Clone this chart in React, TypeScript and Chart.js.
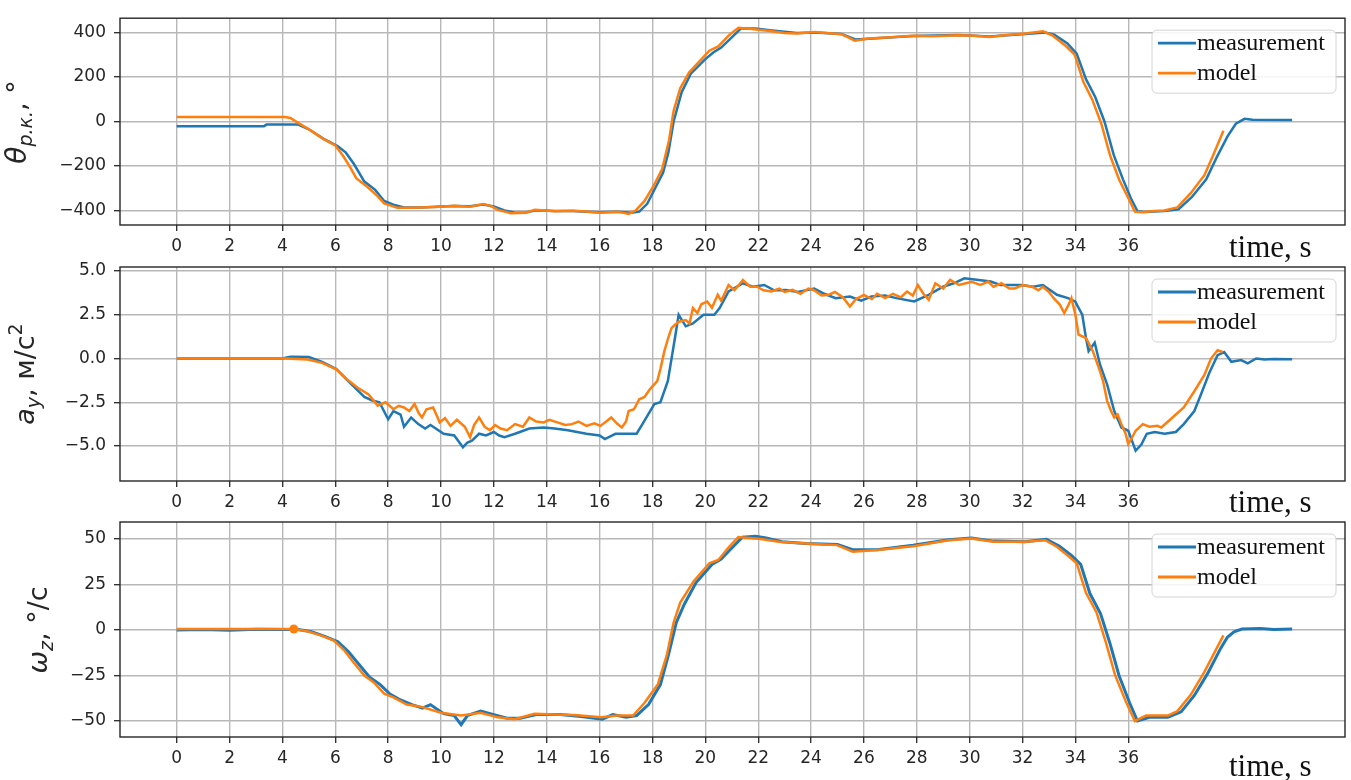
import React, { useEffect, useRef } from "react";
import { Chart, registerables } from "chart.js";
Chart.register(...registerables);

// ---------- data ----------
const xTicks = [0, 2, 4, 6, 8, 10, 12, 14, 16, 18, 20, 22, 24, 26, 28, 30, 32, 34, 36];

const thetaTicks = [-400, -200, 0, 200, 400];
const ayTicks = [-5, -2.5, 0, 2.5, 5];
const omegaTicks = [-50, -25, 0, 25, 50];

// Panel 1: steering angle
const thetaMeasT = [0, 3.3, 3.4, 4.6, 5.0, 5.56, 6.1, 6.4, 6.7, 7.1, 7.5, 7.85, 8.2, 8.6, 9.24, 9.8, 10.5, 11.1, 11.6, 12.0, 12.4, 12.8, 13.2, 13.6, 14.3, 15.0, 15.5, 16.0, 16.68, 17.2, 17.5, 17.8, 18.1, 18.4, 18.6, 18.8, 19.1, 19.45, 20.0, 20.3, 20.6, 21.0, 21.35, 21.9, 22.44, 23.46, 24.14, 25.15, 25.7, 26.17, 27.86, 29.56, 30.75, 32.1, 32.85, 33.2, 33.7, 34.05, 34.4, 34.75, 35.1, 35.45, 35.8, 36.1, 36.35, 36.6, 37.36, 37.9, 38.4, 38.95, 39.35, 39.75, 40.07, 40.4, 40.7, 42.2];
const thetaMeas = [-21, -21, -14, -14, -35, -78, -111, -140, -190, -270, -306, -357, -374, -386, -386, -383, -380, -381, -373, -382, -400, -410, -409, -399, -402, -402, -405, -408, -406, -410, -405, -370, -300, -230, -140, 0, 130, 215, 280, 310, 332, 378, 418, 418, 410, 397, 400, 393, 368, 372, 384, 388, 382, 393, 400, 390, 350, 305, 190, 110, 0, -150, -260, -345, -403, -407, -402, -395, -340, -260, -160, -68, -10, 12, 8, 7];
const thetaModelT = [0, 4.1, 4.3, 4.55, 5.05, 5.56, 6.0, 6.3, 6.56, 6.8, 7.2, 7.6, 7.85, 8.35, 8.8, 9.24, 9.8, 10.5, 11.1, 11.6, 11.9, 12.15, 12.65, 13.2, 13.55, 14.3, 15.0, 15.5, 16.0, 16.68, 17.1, 17.36, 17.7, 18.03, 18.37, 18.63, 18.8, 19.05, 19.39, 19.9, 20.15, 20.49, 20.9, 21.25, 21.76, 22.44, 23.0, 23.46, 24.14, 24.6, 25.15, 25.66, 26.17, 27.0, 27.86, 28.6, 29.56, 30.2, 30.75, 31.4, 32.1, 32.78, 33.12, 33.63, 33.97, 34.3, 34.64, 34.98, 35.32, 35.66, 36.0, 36.25, 36.5, 37.0, 37.36, 37.86, 38.37, 38.88, 39.2, 39.6];
const thetaModel = [20, 20, 16, -3, -39, -79, -108, -155, -205, -256, -292, -335, -368, -388, -387, -386, -384, -378, -383, -371, -380, -397, -412, -410, -397, -403, -401, -404, -410, -405, -415, -400, -357, -292, -213, -82, 48, 149, 221, 286, 318, 337, 388, 421, 416, 406, 398, 395, 402, 398, 392, 363, 373, 378, 385, 383, 387, 385, 380, 388, 395, 405, 387, 340, 301, 178, 98, -10, -155, -263, -343, -405, -408, -402, -400, -386, -321, -241, -155, -42];

// Panel 2: lateral acceleration
const ayMeasT = [0, 4.0, 4.3, 5.0, 5.5, 6.04, 6.5, 7.1, 7.4, 7.67, 8.0, 8.2, 8.47, 8.6, 8.87, 9.14, 9.4, 9.6, 9.8, 10.1, 10.5, 10.83, 11.0, 11.17, 11.44, 11.7, 12.0, 12.2, 12.4, 12.8, 13.34, 13.88, 14.3, 14.8, 15.5, 16.0, 16.2, 16.6, 17.1, 17.4, 17.66, 18.07, 18.3, 18.58, 18.85, 18.99, 19.26, 19.53, 19.93, 20.34, 20.54, 20.88, 21.42, 21.8, 22.23, 22.6, 23.04, 23.5, 24.12, 24.5, 24.93, 25.47, 25.9, 26.28, 26.8, 27.23, 27.9, 28.45, 28.99, 29.4, 29.8, 30.34, 30.8, 31.15, 31.96, 32.4, 32.77, 33.3, 33.72, 33.99, 34.26, 34.4, 34.5, 34.73, 34.93, 35.2, 35.47, 35.74, 36.0, 36.28, 36.5, 36.7, 37.0, 37.37, 37.8, 38.1, 38.5, 38.75, 39.06, 39.38, 39.63, 39.9, 40.27, 40.52, 40.84, 41.15, 41.5, 42.2];
const ayMeas = [0, 0, 0.1, 0.08, -0.2, -0.6, -1.3, -2.2, -2.4, -2.5, -3.47, -3.0, -3.2, -3.9, -3.37, -3.75, -4.0, -3.8, -4.0, -4.3, -4.4, -5.07, -4.8, -4.7, -4.3, -4.4, -4.2, -4.4, -4.5, -4.3, -4.0, -3.94, -4.0, -4.1, -4.3, -4.4, -4.6, -4.3, -4.3, -4.3, -3.65, -2.6, -2.5, -1.29, 1.17, 2.5, 1.84, 2.0, 2.5, 2.5, 2.88, 3.83, 4.3, 4.1, 4.2, 3.9, 3.92, 3.8, 4.0, 3.7, 3.45, 3.54, 3.3, 3.54, 3.6, 3.45, 3.26, 3.64, 4.1, 4.3, 4.58, 4.49, 4.4, 4.2, 4.2, 4.1, 4.2, 3.64, 3.45, 3.26, 2.5, 1.17, 0.42, 0.9, -0.34, -1.48, -3.0, -3.94, -4.13, -5.27, -4.9, -4.3, -4.2, -4.3, -4.2, -3.75, -3.0, -2.06, -0.84, 0.19, 0.37, -0.19, -0.09, -0.28, 0, -0.05, -0.03, -0.04];
const ayModelT = [0, 4.1, 4.96, 5.5, 6.04, 6.45, 6.85, 7.26, 7.45, 7.6, 7.9, 8.2, 8.4, 8.6, 8.8, 9.0, 9.15, 9.28, 9.45, 9.7, 9.85, 9.95, 10.15, 10.36, 10.6, 10.9, 11.1, 11.25, 11.44, 11.65, 11.85, 12.05, 12.25, 12.5, 12.8, 13.1, 13.34, 13.6, 13.88, 14.1, 14.4, 14.7, 14.95, 15.2, 15.5, 15.8, 16.03, 16.25, 16.44, 16.65, 16.84, 17.0, 17.1, 17.3, 17.5, 17.7, 17.9, 18.18, 18.3, 18.45, 18.6, 18.72, 18.85, 19.0, 19.26, 19.4, 19.53, 19.7, 19.85, 20.07, 20.25, 20.47, 20.6, 20.88, 21.1, 21.42, 21.7, 21.96, 22.2, 22.5, 22.8, 23.0, 23.3, 23.6, 23.9, 24.1, 24.4, 24.66, 24.9, 25.2, 25.47, 25.7, 26.0, 26.3, 26.5, 26.8, 27.1, 27.4, 27.63, 27.85, 28.04, 28.25, 28.45, 28.7, 29.0, 29.26, 29.6, 30.07, 30.4, 30.7, 30.9, 31.2, 31.5, 31.7, 32.0, 32.36, 32.6, 32.77, 33.0, 33.18, 33.4, 33.58, 33.75, 33.85, 34.0, 34.12, 34.4, 34.66, 34.93, 35.05, 35.2, 35.35, 35.47, 35.6, 35.74, 35.9, 36.0, 36.15, 36.28, 36.55, 36.8, 37.1, 37.25, 37.6, 38.1, 38.5, 38.88, 39.13, 39.38, 39.57];
const ayModel = [0, 0, -0.06, -0.25, -0.62, -1.2, -1.67, -2.05, -2.4, -2.7, -2.5, -2.9, -2.7, -2.8, -3.0, -2.6, -3.1, -3.37, -2.9, -2.8, -3.3, -3.65, -3.4, -3.85, -3.5, -3.9, -4.5, -3.8, -3.37, -3.9, -4.1, -3.8, -4.0, -4.1, -3.75, -3.9, -3.37, -3.6, -3.65, -3.5, -3.65, -3.8, -3.75, -3.6, -3.85, -3.7, -3.85, -3.6, -3.37, -3.7, -3.94, -3.6, -3.0, -2.9, -2.33, -2.2, -1.76, -1.29, -0.6, 0.42, 1.2, 1.74, 1.93, 2.1, 2.2, 2.0, 2.88, 2.6, 3.1, 3.26, 2.9, 3.64, 3.3, 4.2, 3.9, 4.49, 4.1, 4.1, 3.9, 3.83, 4.0, 3.8, 3.92, 3.7, 4.0, 3.92, 3.6, 3.64, 3.8, 3.5, 2.97, 3.4, 3.64, 3.4, 3.7, 3.45, 3.7, 3.5, 3.83, 3.6, 4.2, 3.7, 3.35, 4.3, 4.0, 4.49, 4.2, 4.39, 4.2, 4.4, 4.1, 4.3, 4.0, 4.0, 4.2, 4.1, 3.9, 4.1, 3.8, 3.45, 3.1, 2.6, 3.1, 3.45, 2.5, 1.36, 1.17, 0.42, -0.72, -1.3, -2.42, -3.0, -3.37, -3.2, -3.75, -4.3, -4.89, -4.5, -4.13, -3.75, -3.9, -3.85, -3.94, -3.47, -2.8, -1.87, -0.94, 0, 0.47, 0.37];

// Panel 3: yaw rate
const omegaMeasT = [0, 1, 2, 3, 4, 4.6, 5.1, 5.6, 6.1, 6.5, 6.9, 7.3, 7.7, 8.05, 8.4, 8.9, 9.3, 9.6, 10.1, 10.5, 10.76, 11.0, 11.5, 12.0, 12.5, 13.0, 13.6, 14.5, 15.3, 16.1, 16.5, 17.0, 17.4, 17.85, 18.3, 18.6, 18.9, 19.2, 19.65, 20.25, 20.6, 21.0, 21.4, 21.9, 22.3, 22.9, 23.8, 25.0, 25.6, 26.5, 27.86, 29.2, 30.07, 30.9, 32.1, 32.9, 33.4, 33.85, 34.2, 34.55, 34.95, 35.3, 35.65, 36.05, 36.35, 36.8, 37.5, 38.0, 38.5, 39.0, 39.5, 39.75, 40.0, 40.3, 41.0, 41.5, 42.2];
const omegaMeas = [0, 0.3, -0.2, 0.4, 0.2, 0.3, -1, -3.5, -6.5, -12, -19, -26, -30, -35, -38, -41, -43, -41, -46, -47, -52, -47, -44.6, -46.5, -48.5, -48.5, -46.5, -46.5, -47.5, -49, -46.5, -48, -47, -41, -30, -14, 4, 14, 26, 36, 39, 45, 51, 51.5, 50.5, 48.5, 47.5, 47, 44, 44, 46.5, 49.5, 50.5, 48.8, 48.5, 49.8, 46, 41, 36, 20, 9, -7, -25, -40, -50, -48, -48, -45, -36, -24, -10, -4, -1, 0.5, 0.8, 0.3, 0.5];
const omegaModelT = [0, 4.43, 4.94, 5.45, 5.95, 6.33, 6.7, 7.1, 7.47, 7.85, 8.2, 8.7, 9.2, 10.0, 10.76, 11.5, 12.15, 12.78, 13.54, 14.3, 15.04, 16.05, 16.68, 17.27, 17.7, 18.2, 18.54, 18.8, 19.05, 19.56, 20.15, 20.49, 20.9, 21.25, 22.1, 22.78, 23.8, 24.98, 25.58, 26.5, 27.86, 29.2, 30.07, 30.9, 32.1, 32.86, 33.3, 33.7, 34.05, 34.4, 34.8, 35.15, 35.5, 35.9, 36.25, 36.68, 37.5, 37.86, 38.37, 38.88, 39.6];
const omegaModel = [0.5, 0.5, -0.7, -3, -5.8, -11, -18, -25, -29, -35, -37, -41, -42, -45.5, -47, -45.5, -48, -49, -46, -46.4, -46.7, -48, -47, -47, -40, -30, -14, 4, 15, 26.7, 36.6, 38.4, 45.7, 51, 50, 48.4, 47.5, 46.6, 43, 43.9, 46, 49.3, 50.2, 48.4, 48.4, 49.3, 45.7, 41, 36.6, 20.4, 9.6, -6.7, -24.7, -39, -50, -47, -47, -44.6, -35.5, -23, -3];
const omegaModelMarkerT = 4.43;

const seriesNames = ["measurement", "model"];
const BLUE = "#1f77b4";
const ORANGE = "#ff7f0e";

// ---------- helpers ----------
const toPts = (t: number[], v: number[]) => t.map((x, i) => ({ x, y: v[i] }));
const fmtInt = (v: number) => String(Math.round(v)).replace("-", "\u2212");
const fmtOne = (v: number) => v.toFixed(1).replace("-", "\u2212");

type Seg = { text: string; font: string; dy: number };

interface PanelCfg {
  top: number;
  height: number;
  chartTop: number;
  chartBottom: number;
  yMin: number;
  yMax: number;
  yTicks: number[];
  fmt: (v: number) => string;
  measT: number[];
  meas: number[];
  modelT: number[];
  model: number[];
  markerT?: number;
  label: Seg[];
  labelX: number;
  labelY: number;
  timeBaseline: number;
  measWidth: number;
}

const MAIN = "DejaVu Sans";
const SERIF = "'Liberation Serif', 'Times New Roman', serif";

const panels: PanelCfg[] = [
  {
    top: 0, height: 262, chartTop: 11, chartBottom: 225,
    yMin: -465, yMax: 464, yTicks: thetaTicks, fmt: fmtInt,
    measT: thetaMeasT, meas: thetaMeas, modelT: thetaModelT, model: thetaModel,
    label: [
      { text: "\u03b8", font: `italic 28px ${MAIN}`, dy: 0 },
      { text: "\u0440.\u043a.", font: `italic 19px ${MAIN}`, dy: 6 },
      { text: ", \u00b0", font: `27px ${MAIN}`, dy: 0 },
    ],
    labelX: 26, labelY: 122, timeBaseline: 257, measWidth: 2.5,
  },
  {
    top: 245, height: 275, chartTop: 22, chartBottom: 236,
    yMin: -7.0, yMax: 5.23, yTicks: ayTicks, fmt: fmtOne,
    measT: ayMeasT, meas: ayMeas, modelT: ayModelT, model: ayModel,
    label: [
      { text: "a", font: `italic 27px ${MAIN}`, dy: 0 },
      { text: "y", font: `italic 19px ${MAIN}`, dy: 6 },
      { text: ", \u043c/\u0441", font: `27px ${MAIN}`, dy: 0 },
      { text: "2", font: `19px ${MAIN}`, dy: -12 },
    ],
    labelX: 34, labelY: 374, timeBaseline: 512, measWidth: 2.5,
  },
  {
    top: 500, height: 280, chartTop: 22, chartBottom: 237,
    yMin: -58.8, yMax: 59.3, yTicks: omegaTicks, fmt: fmtInt,
    measT: omegaMeasT, meas: omegaMeas, modelT: omegaModelT, model: omegaModel,
    markerT: omegaModelMarkerT,
    label: [
      { text: "\u03c9", font: `italic 27px ${MAIN}`, dy: 0 },
      { text: "z", font: `italic 19px ${MAIN}`, dy: 6 },
      { text: ", \u00b0/\u0441", font: `27px ${MAIN}`, dy: 0 },
    ],
    labelX: 47, labelY: 630, timeBaseline: 776, measWidth: 3,
  },
];

const WIDTH = 1351;
const X_MIN = -2.145;
const X_MAX = 44.2;

function makePlugin(p: PanelCfg) {
  return {
    id: "decor",
    afterDraw(chart: any) {
      const ctx = chart.ctx as CanvasRenderingContext2D;
      const a = chart.chartArea;
      ctx.save();
      // frame
      ctx.strokeStyle = "#262626";
      ctx.lineWidth = 1.4;
      ctx.strokeRect(a.left, a.top, a.right - a.left, a.bottom - a.top);

      // legend
      const bx = 1152, by = a.top + 12, bw = 184, bh = 63, r = 5;
      ctx.beginPath();
      ctx.moveTo(bx + r, by);
      ctx.arcTo(bx + bw, by, bx + bw, by + bh, r);
      ctx.arcTo(bx + bw, by + bh, bx, by + bh, r);
      ctx.arcTo(bx, by + bh, bx, by, r);
      ctx.arcTo(bx, by, bx + bw, by, r);
      ctx.closePath();
      ctx.fillStyle = "rgba(255,255,255,0.85)";
      ctx.fill();
      ctx.strokeStyle = "#d4d4d4";
      ctx.lineWidth = 1;
      ctx.stroke();
      const colors = [BLUE, ORANGE];
      seriesNames.forEach((name, i) => {
        const ly = by + 13 + i * 30;
        ctx.strokeStyle = colors[i];
        ctx.lineWidth = 2.8;
        ctx.beginPath();
        ctx.moveTo(1158, ly);
        ctx.lineTo(1196, ly);
        ctx.stroke();
        ctx.fillStyle = "#111";
        ctx.font = `24px ${SERIF}`;
        ctx.textBaseline = "middle";
        ctx.textAlign = "left";
        ctx.fillText(name, 1197, ly + 1);
      });

      // x-axis title
      ctx.fillStyle = "#111";
      ctx.font = `31px ${SERIF}`;
      ctx.textBaseline = "alphabetic";
      ctx.textAlign = "left";
      ctx.fillText("time, s", 1229, p.timeBaseline - p.top);

      // y-axis title (rotated, with sub/superscripts)
      ctx.translate(p.labelX, p.labelY - p.top);
      ctx.rotate(-Math.PI / 2);
      ctx.fillStyle = "#262626";
      ctx.textBaseline = "alphabetic";
      let total = 0;
      p.label.forEach((s) => {
        ctx.font = s.font;
        total += ctx.measureText(s.text).width;
      });
      let x = -total / 2;
      p.label.forEach((s) => {
        ctx.font = s.font;
        ctx.fillText(s.text, x, s.dy);
        x += ctx.measureText(s.text).width;
      });
      ctx.restore();
    },
  };
}

function Panel({ p }: { p: PanelCfg }) {
  const ref = useRef<HTMLCanvasElement>(null);
  useEffect(() => {
    const canvas = ref.current!;
    const markerIdx = p.markerT !== undefined ? p.modelT.indexOf(p.markerT) : -1;
    const chart = new Chart(canvas, {
      type: "line",
      data: {
        datasets: [
          {
            label: seriesNames[0],
            data: toPts(p.measT, p.meas),
            borderColor: BLUE,
            backgroundColor: BLUE,
            borderWidth: p.measWidth,
            pointRadius: 0,
            tension: 0,
            order: 1,
          },
          {
            label: seriesNames[1],
            data: toPts(p.modelT, p.model),
            borderColor: ORANGE,
            backgroundColor: ORANGE,
            borderWidth: 2.5,
            pointRadius: (c: any) => (c.dataIndex === markerIdx ? 4.5 : 0),
            pointBorderWidth: 0,
            tension: 0,
            order: 0,
          },
        ],
      },
      options: {
        responsive: false,
        maintainAspectRatio: false,
        animation: false,
        devicePixelRatio: 1,
        events: [],
        layout: { padding: { top: p.chartTop, right: WIDTH - 1345, left: 0, bottom: 0 } },
        plugins: { legend: { display: false }, tooltip: { enabled: false } },
        scales: {
          x: {
            type: "linear",
            min: X_MIN,
            max: X_MAX,
            afterBuildTicks: (s: any) => {
              s.ticks = xTicks.map((v) => ({ value: v }));
            },
            afterFit: (s: any) => {
              s.height = p.height - p.chartBottom;
            },
            grid: { color: "#b8b8b8", lineWidth: 1.4, tickColor: "#262626", tickLength: 6, tickWidth: 1.3 },
            border: { display: false },
            ticks: {
              autoSkip: false,
              maxRotation: 0,
              padding: 5,
              color: "#262626",
              font: { family: MAIN, size: 17 },
              callback: (v: any) => fmtInt(Number(v)),
            },
          },
          y: {
            type: "linear",
            min: p.yMin,
            max: p.yMax,
            afterBuildTicks: (s: any) => {
              s.ticks = p.yTicks.map((v) => ({ value: v }));
            },
            afterFit: (s: any) => {
              s.width = 120;
            },
            grid: { color: "#b8b8b8", lineWidth: 1.4, tickColor: "#262626", tickLength: 6, tickWidth: 1.3 },
            border: { display: false },
            ticks: {
              padding: 8,
              color: "#262626",
              font: { family: MAIN, size: 17 },
              callback: (v: any) => p.fmt(Number(v)),
            },
          },
        },
      },
      plugins: [makePlugin(p)],
    } as any);
    return () => chart.destroy();
  }, [p]);
  return (
    <canvas
      ref={ref}
      width={WIDTH}
      height={p.height}
      style={{ position: "absolute", left: 0, top: p.top, width: WIDTH, height: p.height }}
    />
  );
}

export default function App() {
  return (
    <div style={{ position: "absolute", left: 0, top: 0, width: WIDTH, height: 780, background: "#fff" }}>
      {panels.map((p, i) => (
        <Panel key={i} p={p} />
      ))}
    </div>
  );
}
